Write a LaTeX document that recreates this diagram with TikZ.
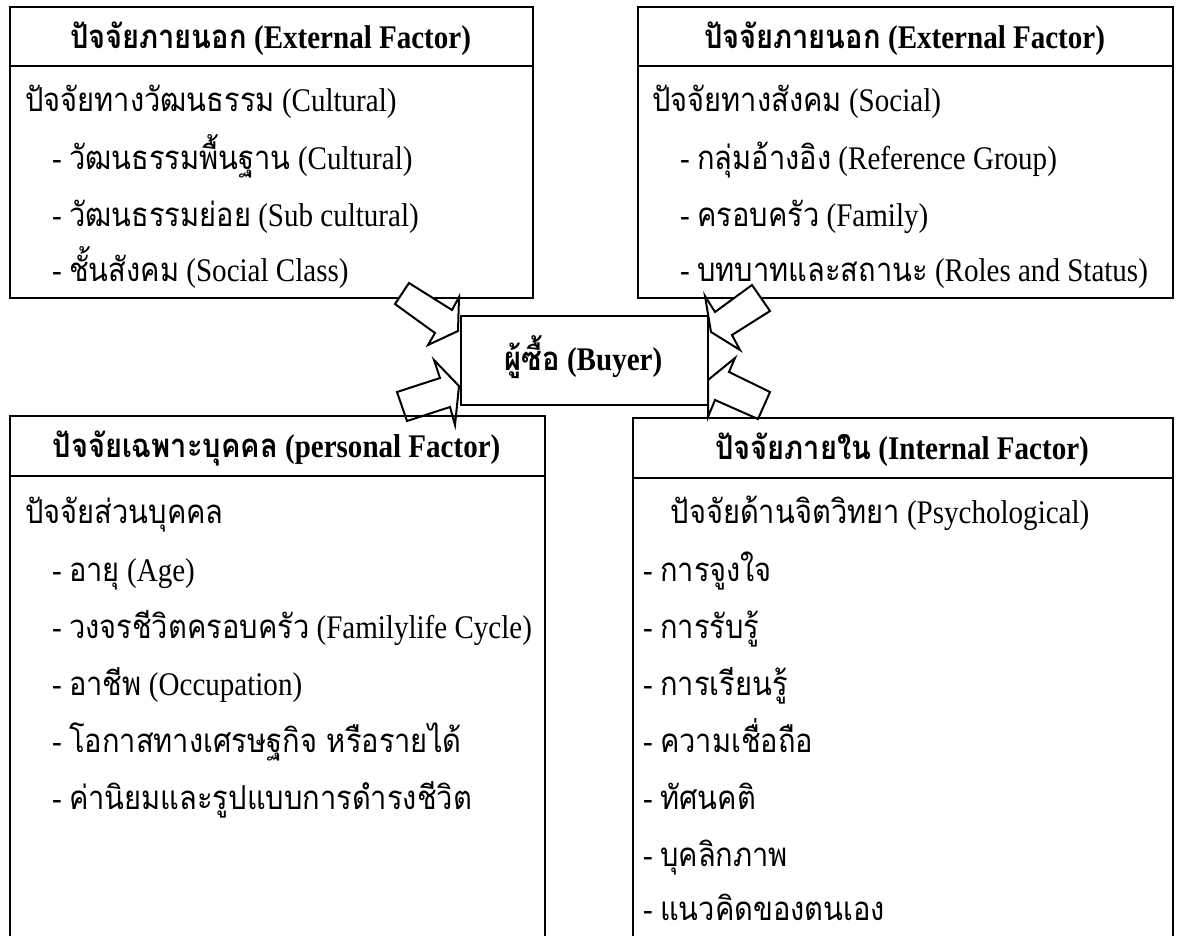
\documentclass[tikz,border=0pt]{standalone}
\usepackage{fontspec}
\setmainfont{Liberation Serif}[FakeStretch=0.88]
\newfontfamily\thaifont[Script=Thai,FakeStretch=0.88,Scale=1.0]{Loma}
\newcommand{\tht}[1]{{\thaifont #1}}
\begin{document}
\begin{tikzpicture}[x=1pt,y=-1pt,
  box/.style={draw,line width=2.2pt,anchor=north west,inner sep=0pt},
  hdr/.style={font=\bfseries,anchor=base,inner sep=0pt},
  row/.style={anchor=base west,inner sep=0pt},
  blk/.style={draw,fill=white,line width=2pt,line join=miter}]
\clip (0,0) rectangle (1182,935);
\fill[white] (0,0) rectangle (1182,935);
\fontsize{33}{39}\selectfont
% top boxes
\node[box,fill=white,minimum width=523,minimum height=291] (tl) at (9,6) {};
\draw[line width=2.2pt] (9,66) -- (532,66);
\node[box,fill=white,minimum width=535,minimum height=291] (tr) at (637,6) {};
\draw[line width=2.2pt] (637,66) -- (1172,66);
% block arrows
\draw[blk] (409,283) -- (452,310) -- (459,297) -- (458,331) -- (428,345) -- (435,333) -- (395,304) -- cycle;
\draw[blk] (397,392) -- (440,378) -- (434,360) -- (459,386) -- (455,425) -- (450,407) -- (407,421) -- cycle;
\draw[blk] (705,296) -- (715,312) -- (752,285) -- (770,311) -- (732,335) -- (740,350) -- (711,332) -- cycle;
\draw[blk] (735,358) -- (729,372) -- (770,392) -- (758,419) -- (715,400) -- (708,417) -- (708,380) -- cycle;
% bottom boxes
\node[box,minimum width=535,minimum height=560] (bl) at (9,415) {};
\draw[line width=2.2pt] (9,476) -- (544,476);
\node[box,minimum width=540,minimum height=560] (br) at (632,417) {};
\draw[line width=2.2pt] (632,478) -- (1172,478);
% buyer
\node[box,fill=white,minimum width=247,minimum height=89] (buyer) at (460,315) {};
\node[hdr] (buyert) at (583.5,370) {\tht{ผู้ซื้อ} (Buyer)};
% TL text
\node[hdr] (tlh) at (270.5,48) {\tht{ปัจจัยภายนอก} (External Factor)};
\node[row] (tl1) at (25,111) {\tht{ปัจจัยทางวัฒนธรรม} (Cultural)};
\node[row] (tl2) at (52,169) {- \tht{วัฒนธรรมพื้นฐาน} (Cultural)};
\node[row] (tl3) at (52,226) {- \tht{วัฒนธรรมย่อย} (Sub cultural)};
\node[row] (tl4) at (52,281) {- \tht{ชั้นสังคม} (Social Class)};
% TR text
\node[hdr] (trh) at (904.5,48) {\tht{ปัจจัยภายนอก} (External Factor)};
\node[row] (tr1) at (652,111) {\tht{ปัจจัยทางสังคม} (Social)};
\node[row] (tr2) at (680,169) {- \tht{กลุ่มอ้างอิง} (Reference Group)};
\node[row] (tr3) at (680,226) {- \tht{ครอบครัว} (Family)};
\node[row] (tr4) at (680,281) {- \tht{บทบาทและสถานะ} (Roles and Status)};
% BL text
\node[hdr] (blh) at (276.5,457) {\tht{ปัจจัยเฉพาะบุคคล} (personal Factor)};
\node[row] (bl1) at (25,523) {\tht{ปัจจัยส่วนบุคคล}};
\node[row] (bl2) at (52,581) {- \tht{อายุ} (Age)};
\node[row] (bl3) at (52,638) {- \tht{วงจรชีวิตครอบครัว} (Familylife Cycle)};
\node[row] (bl4) at (52,695) {- \tht{อาชีพ} (Occupation)};
\node[row] (bl5) at (52,752) {- \tht{โอกาสทางเศรษฐกิจ หรือรายได้}};
\node[row] (bl6) at (52,809) {- \tht{ค่านิยมและรูปแบบการดำรงชีวิต}};
% BR text
\node[hdr] (brh) at (902,459) {\tht{ปัจจัยภายใน} (Internal Factor)};
\node[anchor=base,inner sep=0pt] (br1) at (880,523) {\tht{ปัจจัยด้านจิตวิทยา} (Psychological)};
\node[row] (br2) at (643,581) {- \tht{การจูงใจ}};
\node[row] (br3) at (643,638) {- \tht{การรับรู้}};
\node[row] (br4) at (643,695) {- \tht{การเรียนรู้}};
\node[row] (br5) at (643,752) {- \tht{ความเชื่อถือ}};
\node[row] (br6) at (643,809) {- \tht{ทัศนคติ}};
\node[row] (br7) at (643,866) {- \tht{บุคลิกภาพ}};
\node[row] (br8) at (643,920) {- \tht{แนวคิดของตนเอง}};
\end{tikzpicture}
\end{document}
